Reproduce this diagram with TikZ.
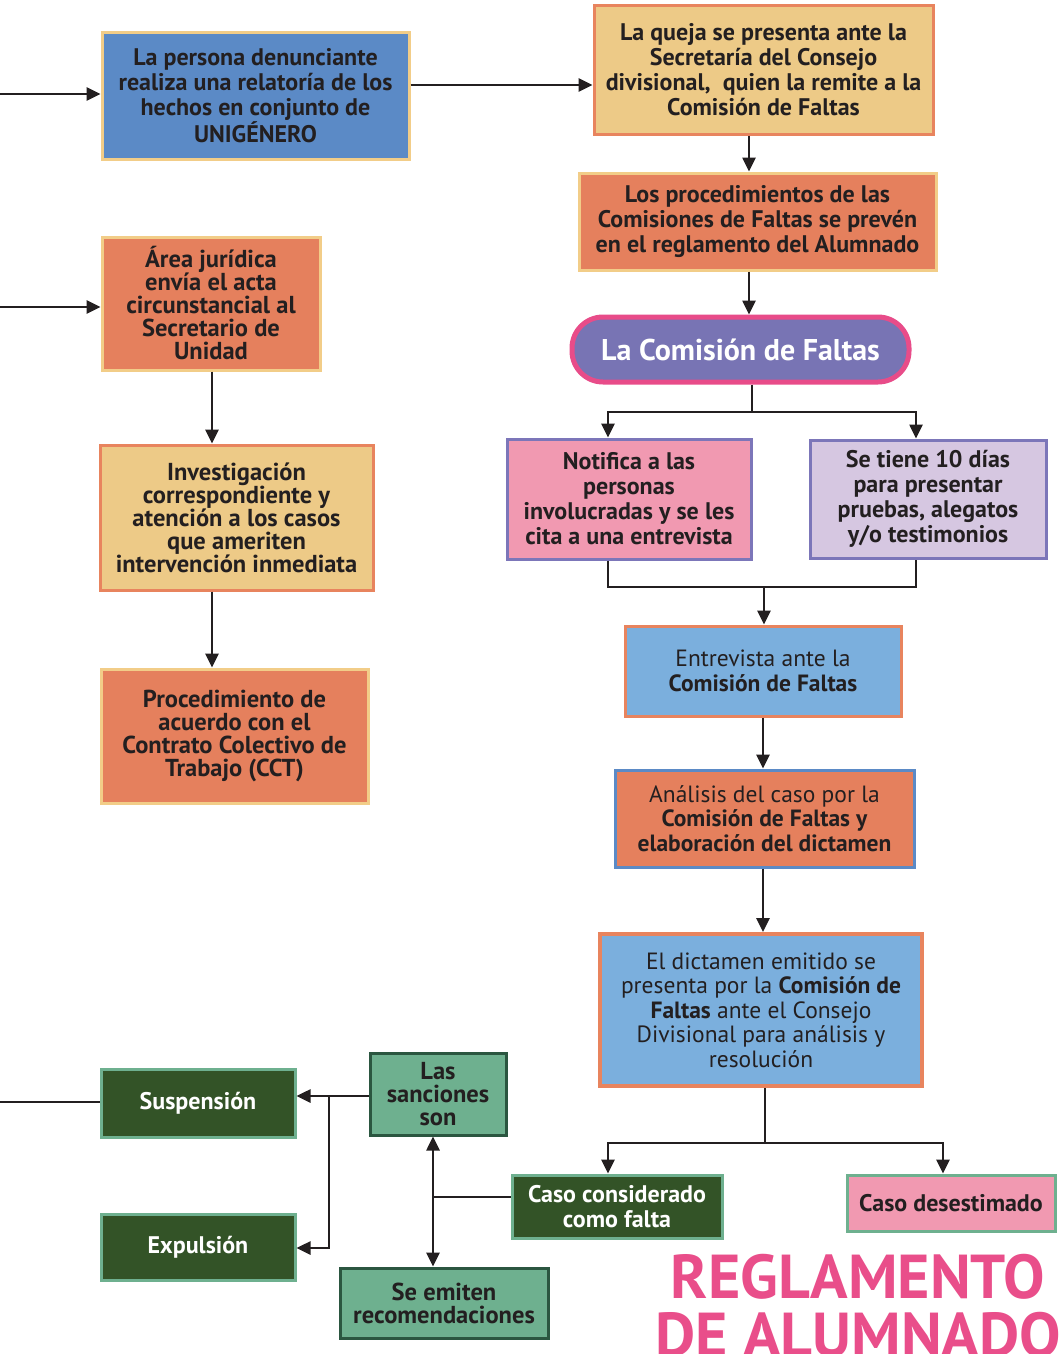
\documentclass[tikz,border=0pt]{standalone}
\usepackage{fontspec}
\setmainfont{PT Sans}
\usetikzlibrary{arrows.meta}
\definecolor{txt}{HTML}{231F20}
\definecolor{blueA}{HTML}{5B8AC6}
\definecolor{lblue}{HTML}{7BAFDD}
\definecolor{peach}{HTML}{EDCA87}
\definecolor{salmon}{HTML}{E5805D}
\definecolor{oborder}{HTML}{E8845E}
\definecolor{yborder}{HTML}{F2CD88}
\definecolor{purp}{HTML}{7874B4}
\definecolor{pinkb}{HTML}{E84C89}
\definecolor{pinkf}{HTML}{F199B1}
\definecolor{lav}{HTML}{D6C7E1}
\definecolor{purpb}{HTML}{7C76B9}
\definecolor{dgreen}{HTML}{335327}
\definecolor{mgreen}{HTML}{6EB08F}
\definecolor{dgborder}{HTML}{2B5640}
\definecolor{titlepink}{HTML}{E94E8A}
\tikzset{
  box/.style={draw, line width=3pt, inner sep=0pt, align=center, text=txt,
    font=\bfseries\fontsize{24}{25}\selectfont},
  lbox/.style={box, font=\fontsize{23.5}{24.5}\selectfont},
  tight/.style={font=\bfseries\fontsize{24.5}{23}\selectfont},
  arr/.style={line width=2.6pt, draw=txt, -{Triangle[width=13pt,length=14pt]}},
  dblarr/.style={line width=2.6pt, draw=txt, {Triangle[width=13pt,length=14pt]}-{Triangle[width=13pt,length=14pt]}},
  ln/.style={line width=2.6pt, draw=txt},
  titletext/.style={text=titlepink, font=\bfseries\fontsize{62}{64}\selectfont, inner sep=0pt}
}
\begin{document}
\begin{tikzpicture}[x=1pt,y=-1pt]
\useasboundingbox[fill=white] (0,0) rectangle (1059,1354);

% right column
\node[box, fill=blueA, draw=yborder, minimum width=307pt, minimum height=126pt] (A) at (255.5,96)
  {La persona denunciante\\realiza una relatoría de los\\hechos en conjunto de\\UNIGÉNERO};
\node[box, fill=peach, draw=oborder, minimum width=339pt, minimum height=128pt] (B) at (763.5,70)
  {La queja se presenta ante la\\Secretaría del Consejo\\divisional,\ \ quien la remite a la\\Comisión de Faltas};
\node[box, fill=salmon, draw=yborder, minimum width=357pt, minimum height=97pt] (C) at (757.5,221.5)
  {Los procedimientos de las\\Comisiones de Faltas se prevén\\en el reglamento del Alumnado};
\node[box, fill=purp, draw=pinkb, line width=5pt, rounded corners=31pt, text=white,
  font=\bfseries\fontsize{30}{32}\selectfont, minimum width=337pt, minimum height=65pt] (D) at (740.5,349.5)
  {La Comisión de Faltas};
\node[box, fill=pinkf, draw=purpb, minimum width=244pt, minimum height=120pt] (E) at (629,499)
  {Notifica a las\\personas\\involucradas y se les\\cita a una entrevista};
\node[box, fill=lav, draw=purpb, minimum width=236pt, minimum height=118pt] (F) at (928,499)
  {Se tiene 10 días\\para presentar\\pruebas, alegatos\\y/o testimonios};
\node[lbox, fill=lblue, draw=oborder, minimum width=276pt, minimum height=90pt] (G) at (763,671)
  {Entrevista ante la\\\textbf{Comisión de Faltas}};
\node[lbox, fill=salmon, draw=blueA, minimum width=299pt, minimum height=97pt] (H) at (764.5,818.5)
  {Análisis del caso por la\\\textbf{Comisión de Faltas y}\\\textbf{elaboración del dictamen}};
\node[lbox, fill=lblue, draw=oborder, line width=4pt, minimum width=322pt, minimum height=152pt] (I) at (761,1010)
  {El dictamen emitido se\\presenta por la \textbf{Comisión de}\\\textbf{Faltas} ante el Consejo\\Divisional para análisis y\\resolución};
\node[box, fill=dgreen, draw=mgreen, text=white, minimum width=210pt, minimum height=63pt] (J) at (617,1206.5)
  {Caso considerado\\como falta};
\node[box, fill=pinkf, draw=mgreen, minimum width=208pt, minimum height=56pt] (K) at (951,1203)
  {Caso desestimado};
\node[box, tight, fill=mgreen, draw=dgborder, minimum width=136pt, minimum height=82pt] (L) at (438,1094)
  {Las\\sanciones\\son};
\node[box, tight, fill=mgreen, draw=dgborder, minimum width=208pt, minimum height=70pt] (M) at (444,1303)
  {Se emiten\\recomendaciones};
\node[box, fill=dgreen, draw=mgreen, text=white, minimum width=194pt, minimum height=68pt] (S) at (198,1103)
  {Suspensión};
\node[box, fill=dgreen, draw=mgreen, text=white, minimum width=194pt, minimum height=66pt] (X) at (198,1247)
  {Expulsión};

% left column
\node[box, tight, fill=salmon, draw=yborder, minimum width=218pt, minimum height=133pt] (N) at (211,303.5)
  {Área jurídica\\envía el acta\\circunstancial al\\Secretario de\\Unidad};
\node[box, tight, fill=peach, draw=oborder, minimum width=273pt, minimum height=145pt] (O) at (236.5,517.5)
  {Investigación\\correspondiente y\\atención a los casos\\que ameriten\\intervención inmediata};
\node[box, tight, fill=salmon, draw=yborder, minimum width=267pt, minimum height=134pt] (P) at (234.5,736)
  {Procedimiento de\\acuerdo con el\\Contrato Colectivo de\\Trabajo (CCT)};

% title
\node[titletext, anchor=base] (T1) at (858,1298) {REGLAMENTO};
\node[titletext, anchor=base] (T2) at (858,1356) {DE ALUMNADO};

% helper coordinates
\coordinate (inA) at (0,94);
\coordinate (yab) at (0,85);
\coordinate (xbc) at (749,0);
\coordinate (dj) at (752,412);
\coordinate (eN) at (608,412);
\coordinate (fN) at (916,412);
\coordinate (eS) at (608,587);
\coordinate (fS) at (916,587);
\coordinate (gj) at (764,587);
\coordinate (xg) at (763,0);
\coordinate (ij) at (765,1143);
\coordinate (jN) at (608,1143);
\coordinate (kN) at (943,1143);
\coordinate (lm) at (433,1197);
\coordinate (ls) at (329,1096);
\coordinate (lx) at (329,1248);
\coordinate (inS) at (0,1102);
\coordinate (inN) at (0,307);
\coordinate (xno) at (212,0);

% connectors
\draw[arr] (inA) -- (inA -| A.west);
\draw[arr] (A.east |- yab) -- (B.west |- yab);
\draw[arr] (B.south -| xbc) -- (C.north -| xbc);
\draw[arr] (C.south -| xbc) -- (D.north -| xbc);
\draw[ln] (D.south -| dj) -- (dj);
\draw[arr] (dj) -- (eN) -- (E.north -| eN);
\draw[arr] (dj) -- (fN) -- (F.north -| fN);
\draw[ln] (E.south -| eS) -- (eS) -- (fS) -- (F.south -| fS);
\draw[arr] (gj) -- (G.north -| gj);
\draw[arr] (G.south -| xg) -- (H.north -| xg);
\draw[arr] (H.south -| xg) -- (I.north -| xg);
\draw[ln] (I.south -| ij) -- (ij);
\draw[arr] (ij) -- (jN) -- (J.north -| jN);
\draw[arr] (ij) -- (kN) -- (K.north -| kN);
\draw[ln] (J.west |- lm) -- (lm);
\draw[dblarr] (L.south -| lm) -- (M.north -| lm);
\draw[ln] (L.west |- ls) -- (ls);
\draw[arr] (ls) -- (S.east |- ls);
\draw[arr] (ls) -- (lx) -- (X.east |- lx);
\draw[ln] (inS) -- (S.west |- inS);
\draw[arr] (inN) -- (N.west |- inN);
\draw[arr] (N.south -| xno) -- (O.north -| xno);
\draw[arr] (O.south -| xno) -- (P.north -| xno);
\end{tikzpicture}
\end{document}
